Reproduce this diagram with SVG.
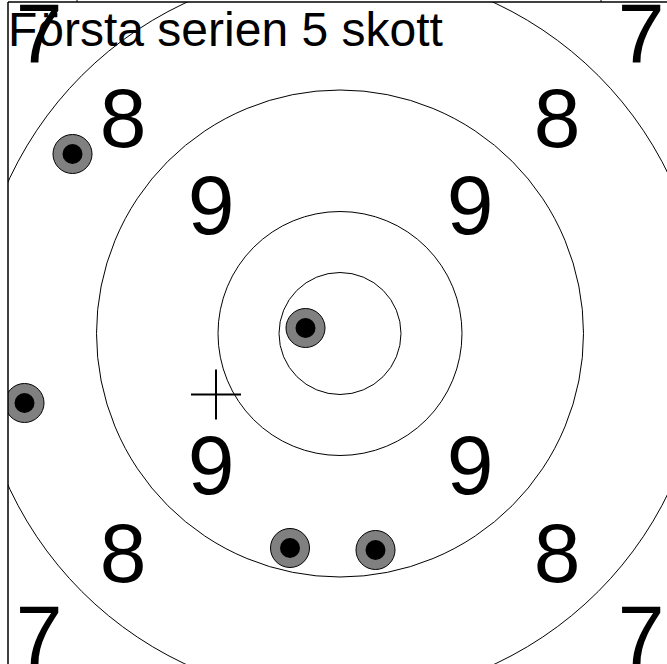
<svg xmlns="http://www.w3.org/2000/svg" width="667" height="664" viewBox="0 0 667 664">
<style>
.ring{fill:none;stroke:#000;stroke-width:1}
.lbl{font-family:"Liberation Sans",Arial,sans-serif;font-size:84px;fill:#000;text-anchor:middle}
.title{font-family:"Liberation Sans",Arial,sans-serif;font-size:48px;fill:#000}
.shot-o{fill:#808080;stroke:#000;stroke-width:1}
.shot-i{fill:#000}
</style>
<defs>
<clipPath id="area"><rect x="8" y="2" width="659" height="662"/></clipPath>
<g id="shot"><circle class="shot-o" r="19.5"/><circle class="shot-i" r="10"/></g>
</defs>
<rect width="667" height="664" fill="#fff"/>
<g clip-path="url(#area)">
<g id="rings">
<circle class="ring" cx="340" cy="333.5" r="61"/>
<circle class="ring" cx="340" cy="333.5" r="122"/>
<circle class="ring" cx="340" cy="333.5" r="243.5"/>
<circle class="ring" cx="340" cy="333.5" r="365"/>
</g>
<g id="labels">
<text class="lbl" x="39" y="62">7</text>
<text class="lbl" x="641" y="62">7</text>
<text class="lbl" x="39" y="664">7</text>
<text class="lbl" x="641" y="664">7</text>
<text class="lbl" x="123" y="147">8</text>
<text class="lbl" x="557" y="147">8</text>
<text class="lbl" x="123" y="582">8</text>
<text class="lbl" x="557" y="582">8</text>
<text class="lbl" x="211" y="234">9</text>
<text class="lbl" x="470" y="234">9</text>
<text class="lbl" x="211" y="494">9</text>
<text class="lbl" x="470" y="494">9</text>
</g>
<text id="title" class="title" x="8" y="46">Första serien 5 skott</text>
<g id="shots">
<use href="#shot" x="305.5" y="328"/>
<use href="#shot" x="24.5" y="403"/>
<use href="#shot" x="72.5" y="154"/>
<use href="#shot" x="290" y="548"/>
<use href="#shot" x="375.5" y="550"/>
</g>
<g id="cross" stroke="#000" stroke-width="2">
<line x1="191" y1="394.5" x2="241" y2="394.5"/>
<line x1="216" y1="369.5" x2="216" y2="419.5"/>
</g>
</g>
<g id="frame" stroke="#000" stroke-width="1.5" fill="none">
<line x1="8" y1="2" x2="667" y2="2"/>
<line x1="8" y1="2" x2="8" y2="664"/>
<line x1="77" y1="0" x2="77" y2="2" stroke-width="1"/>
<line x1="601" y1="0" x2="601" y2="2" stroke-width="1"/>
</g>
</svg>
